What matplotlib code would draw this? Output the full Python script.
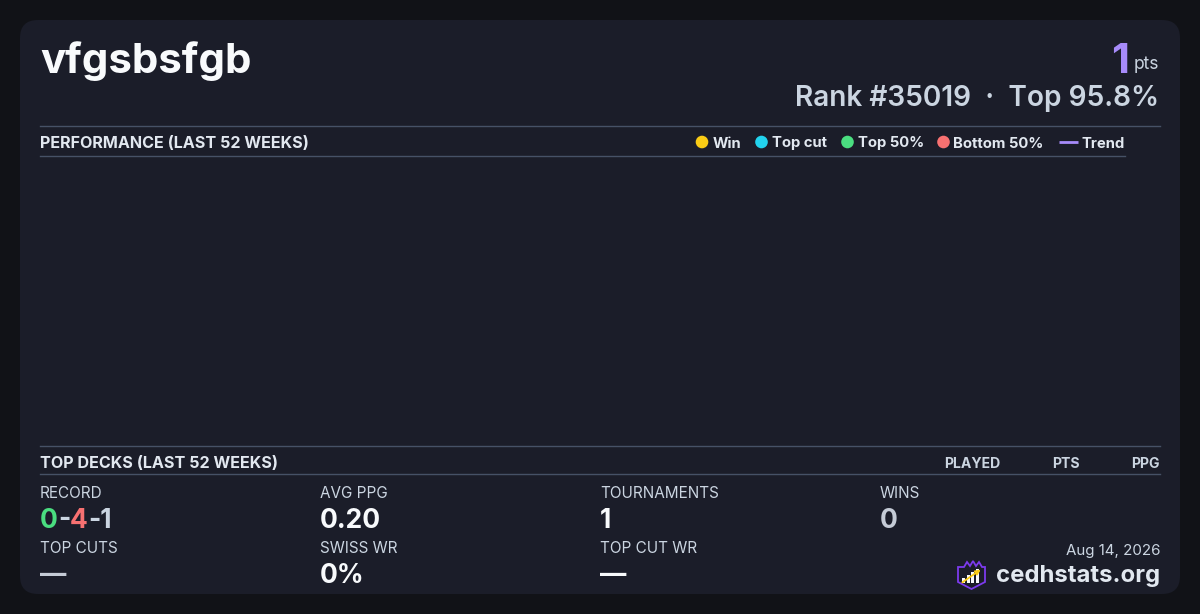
import matplotlib
matplotlib.use("Agg")
import matplotlib.pyplot as plt
from matplotlib.patches import FancyBboxPatch, Circle, Polygon, Rectangle

plt.rcParams.update({"font.family": ["Inter", "DejaVu Sans"]})

W, H = 1200, 614
BG = "#111217"; CARD = "#1b1d29"; RULE = "#465166"
WHITE = "#f8fafc"; LIGHT = "#e2e8f0"; GREY = "#cbd5e1"; DIM = "#c5cbd6"
PURPLE = "#a78bfa"; YELLOW = "#facc15"; CYAN = "#22d3ee"
GREEN = "#4ade80"; RED = "#f87171"

# --- data -------------------------------------------------------------
player = "vfgsbsfgb"
points = 1
rank = 35019
top_pct = 95.8
legend_labels = ["Win", "Top cut", "Top 50%", "Bottom 50%", "Trend"]
legend_colors = [YELLOW, CYAN, GREEN, RED, PURPLE]
# weekly results for the performance panel (none in the last 52 weeks)
weeks = []
week_points = []
deck_columns = ["PLAYED", "PTS", "PPG"]
record = (0, 4, 1)
stat_labels = ["RECORD", "AVG PPG", "TOURNAMENTS", "WINS",
               "TOP CUTS", "SWISS WR", "TOP CUT WR"]
stat_values = [None, "0.20", "1", "0", "\u2014", "0%", "\u2014"]
stat_colors = [None, WHITE, WHITE, DIM, DIM, WHITE, WHITE]
date_text = "Aug 14, 2026"
site = "cedhstats.org"

fig = plt.figure(figsize=(W / 100, H / 100), dpi=100, facecolor=BG)
ax = fig.add_axes([0, 0, 1, 1])
ax.set_xlim(0, W); ax.set_ylim(H, 0); ax.axis("off")

ax.add_patch(FancyBboxPatch((20, 20), 1160, 574,
                            boxstyle="round,pad=0,rounding_size=18",
                            fc=CARD, ec="none"))

# header
ax.text(40, 73, player, fontsize=30.2, fontweight="bold", color=WHITE,
        va="baseline")
ax.text(1159, 69, "pts", fontsize=12.5, color=GREY, ha="right",
        va="baseline")
ax.text(1129, 73, str(points), fontsize=30, fontweight="bold", color=PURPLE,
        ha="right", va="baseline")
ax.text(1159, 106, f"Rank #{rank}  \u00b7  Top {top_pct}%", fontsize=20.2,
        fontweight="semibold", color=GREY, ha="right", va="baseline")

# performance panel
ax.plot([40, 1160], [126, 126], color=RULE, lw=1)
ax.plot([40, 1125], [156, 156], color=RULE, lw=1)
ax.text(40, 148, "PERFORMANCE (LAST 52 WEEKS)", fontsize=11.6,
        fontweight="bold", color=LIGHT, va="baseline")
marker_x = [702, 761.5, 847.5, 943.5, 1068.5]
text_x = [712.5, 771.5, 857.5, 953, 1081.5]
for lab, col, mx, tx in zip(legend_labels, legend_colors, marker_x, text_x):
    if lab == "Trend":
        ax.plot([mx - 9.5, mx + 9.5], [142, 142], color=col, lw=2,
                solid_capstyle="butt")
    else:
        ax.add_patch(Circle((mx, 142), 6.3, fc=col, ec="none"))
    ax.text(tx, 147.5, lab, fontsize=10.7, fontweight="bold", color=LIGHT,
            va="baseline")

perf = fig.add_axes([40 / W, 1 - 446 / H, 1085 / W, 290 / H])
perf.set_facecolor("none"); perf.axis("off")
perf.plot(weeks, week_points, color=PURPLE)

# top decks
ax.plot([40, 1160], [446, 446], color=RULE, lw=1)
ax.plot([40, 1160], [474, 474], color=RULE, lw=1)
ax.text(40, 468, "TOP DECKS (LAST 52 WEEKS)", fontsize=11.6,
        fontweight="bold", color=LIGHT, va="baseline")
for lab, xr in zip(deck_columns, [1000, 1079.5, 1159.5]):
    ax.text(xr, 467.5, lab, fontsize=10.1, fontweight="bold", color=GREY,
            ha="right", va="baseline")

# stats grid
col_x = [40, 320, 600, 880, 40, 320, 600]
row_label_y = [497.5, 497.5, 497.5, 497.5, 553, 553, 553]
for i, lab in enumerate(stat_labels):
    x, y = col_x[i], row_label_y[i]
    ax.text(x, y, lab, fontsize=11, color=GREY, va="baseline")
    if stat_values[i] is not None:
        ax.text(x, y + 30, stat_values[i], fontsize=19, fontweight="bold",
                color=stat_colors[i], va="baseline")

# record coloured W-L-D
parts = [(str(record[0]), GREEN), ("-", GREY), (str(record[1]), RED),
         ("-" + str(record[2]), GREY)]
x = 40
r = fig.canvas.get_renderer()
for s, c in parts:
    t = ax.text(x, 527.5, s, fontsize=19, fontweight="bold", color=c,
                va="baseline")
    bb = t.get_window_extent(renderer=r)
    x += bb.width

# footer
ax.text(1160, 555, date_text, fontsize=10.9, color=GREY, ha="right",
        va="baseline")
ax.text(1160, 582, site, fontsize=17.2, fontweight="bold", color=LIGHT,
        ha="right", va="baseline")
# logo: crowned shield with bars and an arrow
ax.add_patch(Polygon([(958, 567), (964, 567), (967, 562), (970, 566),
                      (973, 561), (976, 566), (979, 562), (982, 567),
                      (985, 567), (985, 582), (971.5, 589), (958, 582)],
                     closed=True, fc="none", ec="#7c3aed", lw=1.3))
for bx, bh in zip([962, 966.5, 971, 975.5], [5, 8, 11, 14]):
    ax.add_patch(Rectangle((bx, 583 - bh), 3, bh, fc=WHITE, ec="none"))
ax.annotate("", xy=(983, 568), xytext=(960, 584),
            arrowprops=dict(arrowstyle="-|>", color=YELLOW, lw=1.3,
                            mutation_scale=7))

fig.savefig("out.png", dpi=100, facecolor=BG)
